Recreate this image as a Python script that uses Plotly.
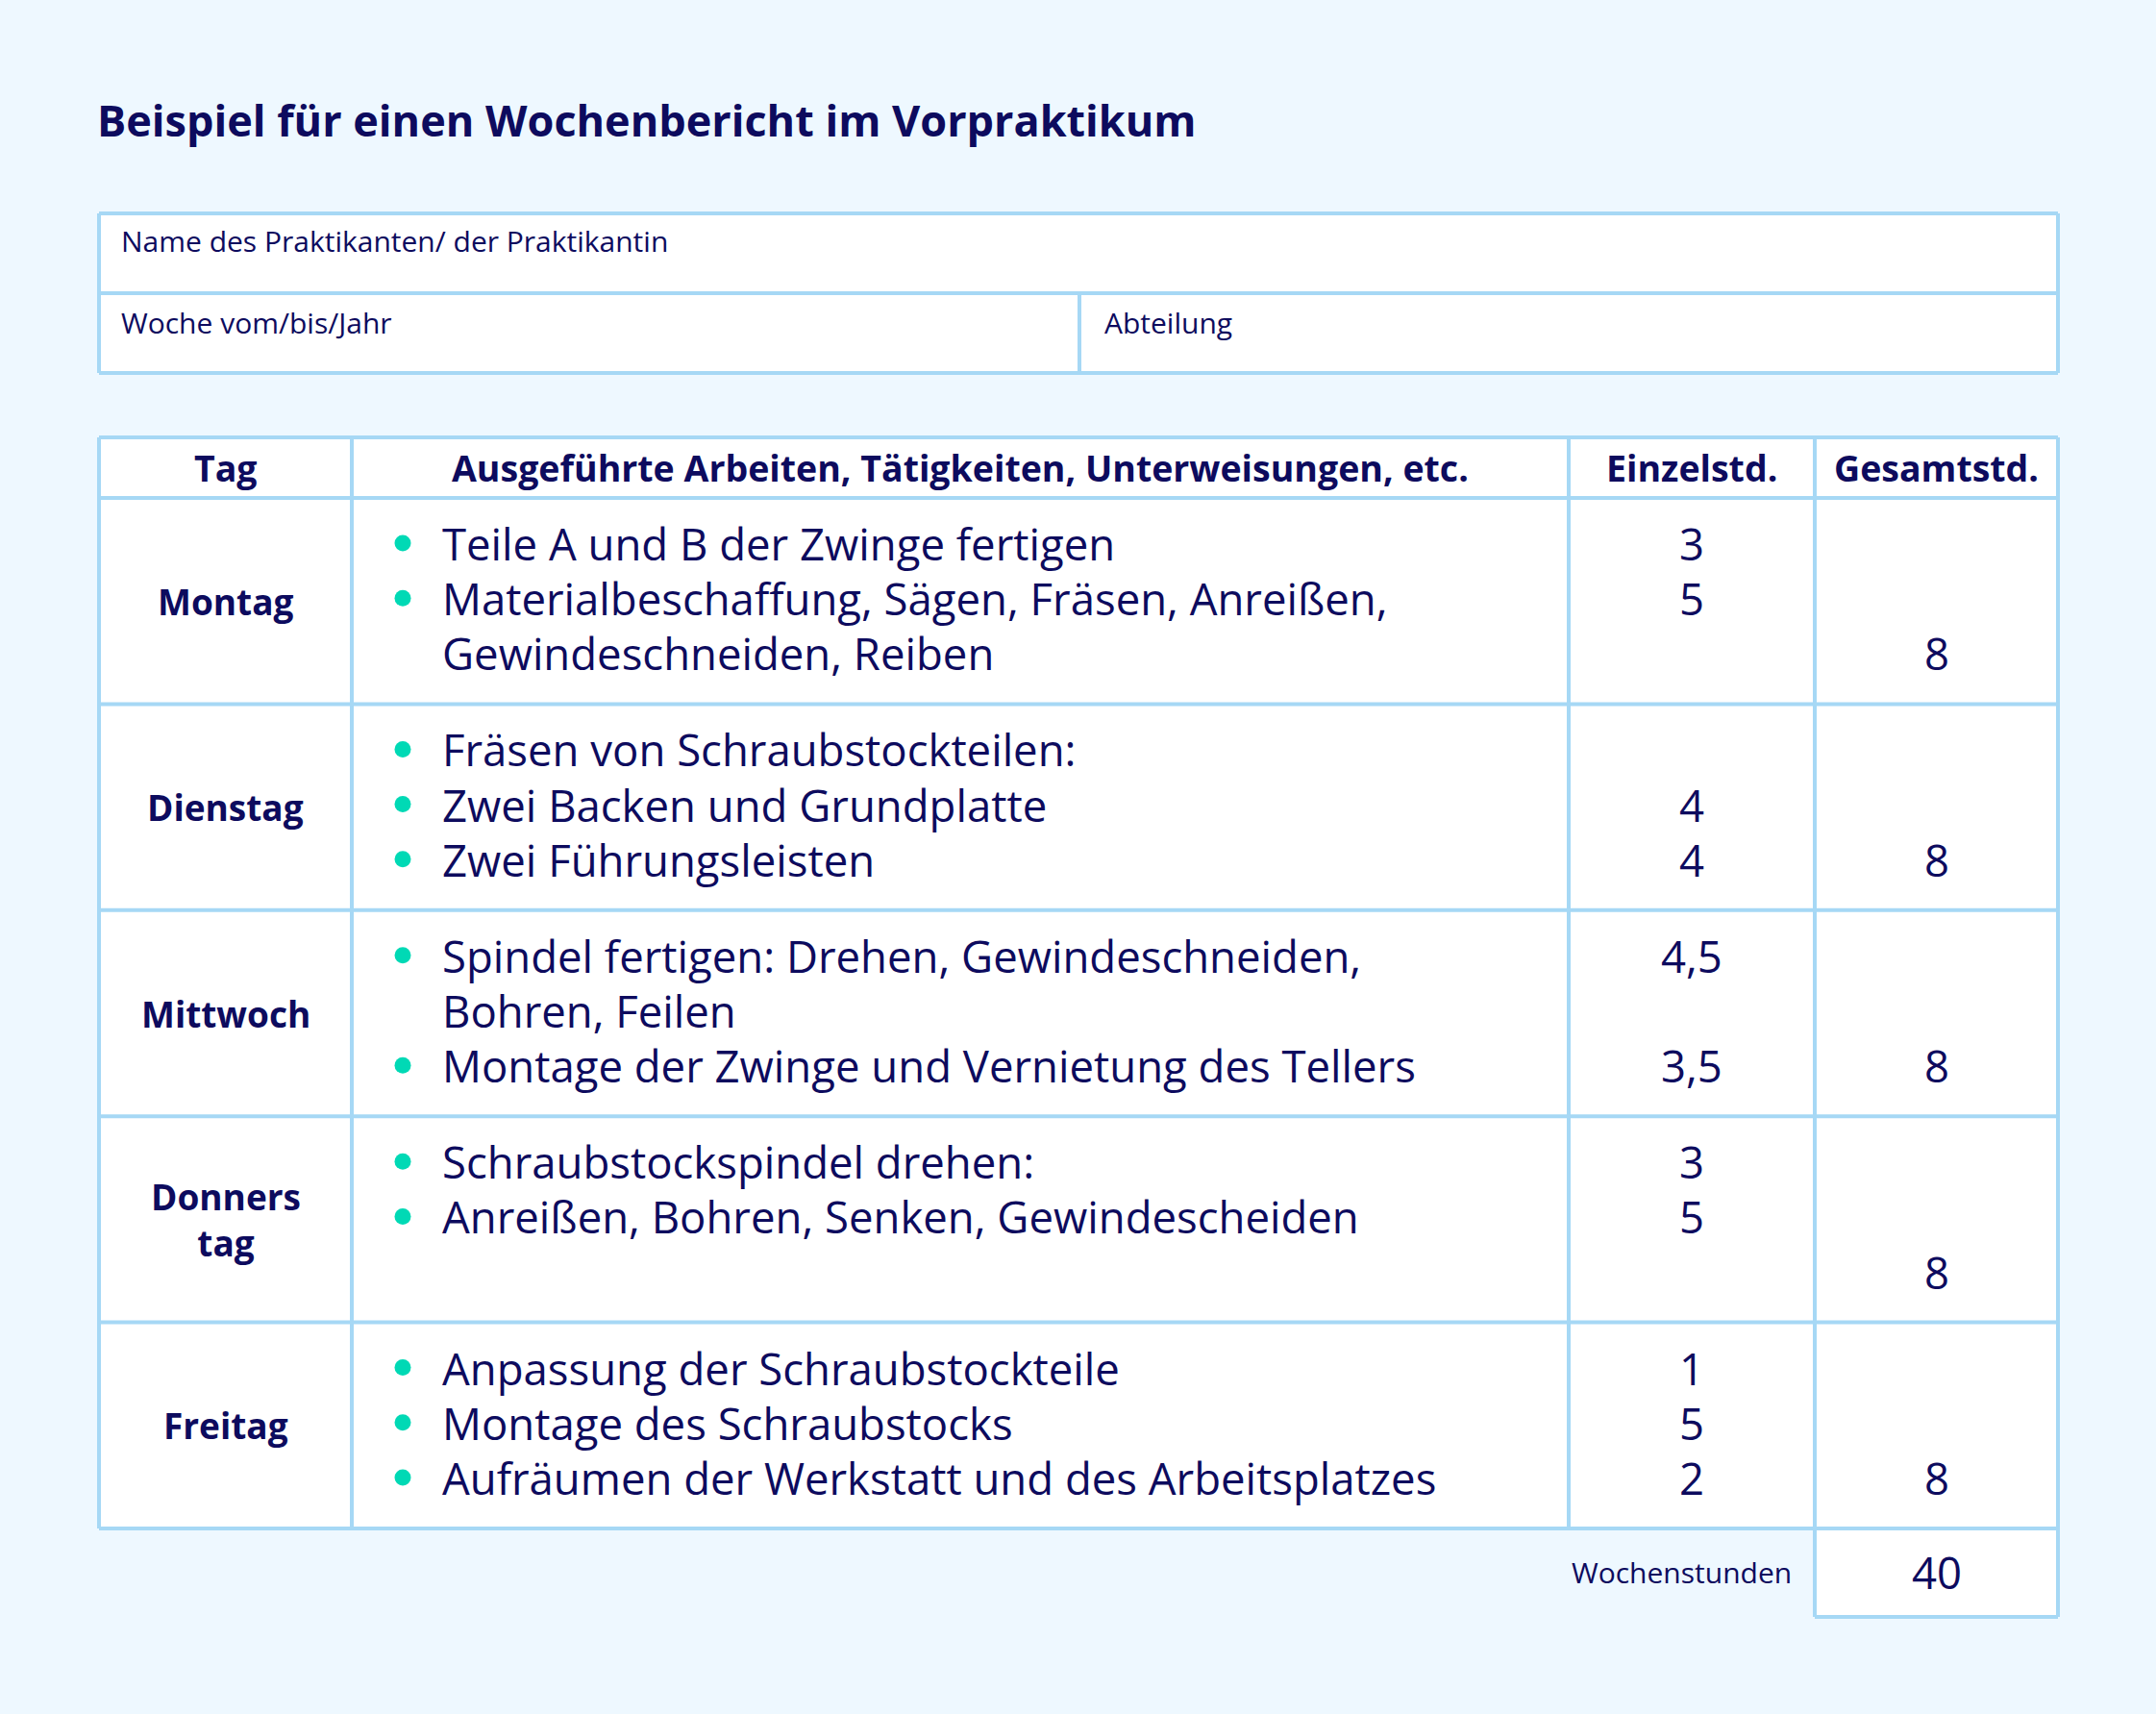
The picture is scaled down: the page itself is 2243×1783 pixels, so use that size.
import plotly.graph_objects as go

W, H = 2243, 1783
BG = "#EEF8FF"
LINE = "#A6D8F5"
INK = "#0D0B5E"
MINT = "#00D9B5"
FONT = "Open Sans"

title = "Beispiel für einen Wochenbericht im Vorpraktikum"
form_fields = ["Name des Praktikanten/ der Praktikantin", "Woche vom/bis/Jahr", "Abteilung"]
headers = ["Tag", "Ausgeführte Arbeiten, Tätigkeiten, Unterweisungen, etc.", "Einzelstd.", "Gesamtstd."]
days = ["Montag", "Dienstag", "Mittwoch", "Donners<br>tag", "Freitag"]
task_lines = [
    ["Teile A und B der Zwinge fertigen", "Materialbeschaffung, Sägen, Fräsen, Anreißen,", "Gewindeschneiden, Reiben"],
    ["Fräsen von Schraubstockteilen:", "Zwei Backen und Grundplatte", "Zwei Führungsleisten"],
    ["Spindel fertigen: Drehen, Gewindeschneiden,", "Bohren, Feilen", "Montage der Zwinge und Vernietung des Tellers"],
    ["Schraubstockspindel drehen:", "Anreißen, Bohren, Senken, Gewindescheiden", ""],
    ["Anpassung der Schraubstockteile", "Montage des Schraubstocks", "Aufräumen der Werkstatt und des Arbeitsplatzes"],
]
bullet_flags = [[1, 1, 0], [1, 1, 1], [1, 0, 1], [1, 1, 0], [1, 1, 1]]
einzel_std = [["3", "5", ""], ["", "4", "4"], ["4,5", "", "3,5"], ["3", "5", ""], ["1", "5", "2"]]
gesamt_std = ["8", "8", "8", "8", "8"]
total_label = "Wochenstunden"
total_hours = "40"

# grid geometry (pixel space, y grows downward)
x_left, x_right = 103, 2141
col_x = [103, 366, 1632, 1888, 2141]
form_y = [222, 305, 388]
form_split = 1123
tab_top, head_bot = 455, 518
row_h = 214.4
first_off, line_h = 47, 57.2
text_x, bullet_x = 461, 419

# font sizes
f_title, f_head, f_day, f_body, f_form, f_small = 45, 37.5, 37, 45.5, 30, 30

fig = go.Figure()
shapes = []
ann = []

def hline(x0, x1, y):
    shapes.append(dict(type="line", x0=x0, x1=x1, y0=y, y1=y, line=dict(color=LINE, width=4), layer="above"))

def vline(x, y0, y1):
    shapes.append(dict(type="line", x0=x, x1=x, y0=y0, y1=y1, line=dict(color=LINE, width=4), layer="above"))

def text(x, y, s, size, bold=False, anchor="left"):
    ann.append(dict(x=x, y=y, xref="x", yref="y", text=f"<b>{s}</b>" if bold else s, showarrow=False,
                    xanchor=anchor, yanchor="middle", font=dict(family=FONT, size=size, color=INK)))

# title
text(x_left - 4, 124, title, f_title, bold=True)

# top form box
shapes.append(dict(type="rect", x0=x_left, x1=x_right, y0=form_y[0], y1=form_y[2], fillcolor="white", line=dict(width=0), layer="below"))
for y in form_y:
    hline(x_left, x_right, y)
vline(x_left, form_y[0], form_y[2])
vline(x_right, form_y[0], form_y[2])
vline(form_split, form_y[1], form_y[2])
text(124, 250, form_fields[0], f_form)
text(124, 335, form_fields[1], f_form)
text(1147, 335, form_fields[2], f_form)

# main table
n = len(days)
tab_bot = head_bot + n * row_h
shapes.append(dict(type="rect", x0=x_left, x1=x_right, y0=tab_top, y1=tab_bot, fillcolor="white", line=dict(width=0), layer="below"))
hline(x_left, x_right, tab_top)
hline(x_left, x_right, head_bot)
for i in range(n):
    hline(x_left, x_right, head_bot + (i + 1) * row_h)
for x in col_x:
    vline(x, tab_top, tab_bot)

for c, h in enumerate(headers):
    text((col_x[c] + col_x[c + 1]) / 2, (tab_top + head_bot) / 2, h, f_head, bold=True, anchor="center")

bx, by = [], []
for i in range(n):
    top = head_bot + i * row_h
    mid = top + row_h / 2
    text((col_x[0] + col_x[1]) / 2, mid, days[i], f_day, bold=True, anchor="center")
    for j, line in enumerate(task_lines[i]):
        y = top + first_off + j * line_h
        if line:
            text(text_x - 3, y, line, f_body)
        if bullet_flags[i][j]:
            bx.append(bullet_x)
            by.append(y)
        if einzel_std[i][j]:
            text((col_x[2] + col_x[3]) / 2, y, einzel_std[i][j], f_body, anchor="center")
    text((col_x[3] + col_x[4]) / 2, top + first_off + 2 * line_h, gesamt_std[i], f_body, anchor="center")

fig.add_trace(go.Scatter(x=bx, y=by, mode="markers", marker=dict(color=MINT, size=17, line=dict(width=0)),
                         hoverinfo="skip", showlegend=False))

# weekly total
tot_bot = tab_bot + 92
shapes.append(dict(type="rect", x0=col_x[3], x1=col_x[4], y0=tab_bot, y1=tot_bot, fillcolor="white", line=dict(width=0), layer="below"))
vline(col_x[3], tab_bot, tot_bot)
vline(col_x[4], tab_bot, tot_bot)
hline(col_x[3], col_x[4], tot_bot)
text(col_x[3] - 22, tab_bot + 45, total_label, f_small, anchor="right")
text((col_x[3] + col_x[4]) / 2, tab_bot + 45, total_hours, f_body, anchor="center")

fig.update_layout(
    width=W, height=H, margin=dict(l=0, r=0, t=0, b=0),
    paper_bgcolor=BG, plot_bgcolor=BG,
    xaxis=dict(range=[0, W], visible=False, fixedrange=True),
    yaxis=dict(range=[H, 0], visible=False, fixedrange=True),
    shapes=shapes, annotations=ann, showlegend=False,
)
fig.write_html("out.html", config={"displayModeBar": False},
               post_script="document.body.style.margin='0';document.body.style.background='#EEF8FF';")
